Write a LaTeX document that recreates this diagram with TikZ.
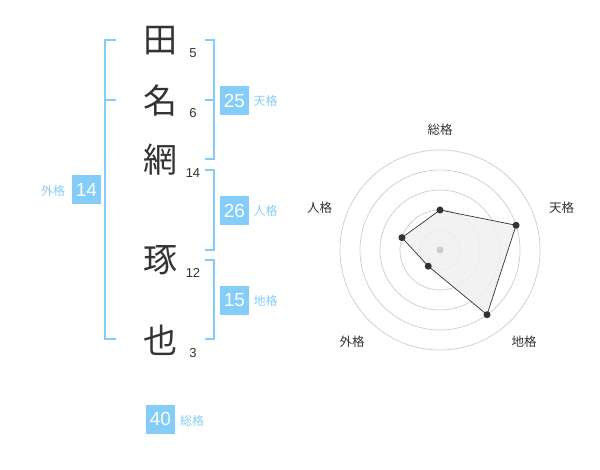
\documentclass[tikz,border=0pt]{standalone}
\usepackage{fontspec}
\setmainfont{Liberation Sans}
\newfontfamily\jpfont{Noto Sans CJK JP}
\definecolor{kakublue}{HTML}{85CDF9}
\definecolor{inkgray}{HTML}{333333}
\definecolor{ringgray}{HTML}{CCCCCC}
\definecolor{areagray}{HTML}{F0F0F0}

\begin{document}
\begin{tikzpicture}[x=1pt, y=-1pt,
    kanji node/.style={inner sep=0pt, text=inkgray, font=\jpfont\fontsize{34}{34}\selectfont},
    stroke node/.style={inner sep=0pt, text=inkgray, font=\fontsize{13}{13}\selectfont},
    box node/.style={fill=kakublue, text=white, minimum size=29pt, inner sep=0pt, font=\fontsize{19}{19}\selectfont},
    kaku node/.style={inner sep=0pt, text=kakublue, font=\jpfont\fontsize{12}{12}\selectfont},
    axis node/.style={inner sep=0pt, text=inkgray, font=\jpfont\fontsize{12.5}{12.5}\selectfont},
    dot node/.style={circle, fill=inkgray, inner sep=0pt, minimum size=7pt},
    bracket/.style={draw=kakublue, line width=1.6pt}]

  \useasboundingbox (0,0) rectangle (600,470);

  % name characters and stroke counts
  \node[kanji node] (1) at (160,41) {田};
  \node[kanji node] (2) at (160,101) {名};
  \node[kanji node] (3) at (160,160) {網};
  \node[kanji node] (4) at (160,260) {琢};
  \node[kanji node] (5) at (160,340) {也};

  \node[stroke node] (s1) at (193,53) {5};
  \node[stroke node] (s2) at (193,113) {6};
  \node[stroke node] (s3) at (193,173) {14};
  \node[stroke node] (s4) at (193,273) {12};
  \node[stroke node] (s5) at (193,353) {3};

  % brackets
  \draw[bracket] (116,40) -- (105,40) -- (105,339) -- (116,339);
  \draw[bracket] (105,100) -- (116,100);
  \draw[bracket] (205,40) -- (214,40) -- (214,159) -- (205,159);
  \draw[bracket] (205,100) -- (214,100);
  \draw[bracket] (205,170) -- (214,170) -- (214,250) -- (205,250);
  \draw[bracket] (205,260) -- (214,260) -- (214,339) -- (205,339);

  % values
  \node[box node] (ten) at (234.5,100.5) {25};
  \node[kaku node] (tenl) at (265.5,101) {天格};
  \node[box node] (jin) at (234.5,210.5) {26};
  \node[kaku node] (jinl) at (265.5,211) {人格};
  \node[box node] (chi) at (234.5,300.5) {15};
  \node[kaku node] (chil) at (265.5,301) {地格};
  \node[box node] (gai) at (86.5,190) {14};
  \node[kaku node] (gail) at (53,191) {外格};
  \node[box node] (sou) at (160.5,419) {40};
  \node[kaku node] (soul) at (192,421) {総格};

  % radar chart
  \node[axis node] (a1) at (440,130) {総格};
  \node[axis node] (a2) at (561.5,208) {天格};
  \node[axis node] (a3) at (524,342) {地格};
  \node[axis node] (a4) at (352,342) {外格};
  \node[axis node] (a5) at (319.5,208) {人格};

  \begin{scope}[shift={(440,250)}]
    \foreach \r in {20,40,60,80,100}
      \draw[ringgray, line width=0.7pt] (0,0) circle[radius=\r];

    \coordinate (p1) at (90:-40);
    \coordinate (p2) at (-18:80);
    \coordinate (p3) at (54:80);
    \coordinate (p4) at (126:20);
    \coordinate (p5) at (198:40);

    \fill[areagray, opacity=0.85] (p1) -- (p2) -- (p3) -- (p4) -- (p5) -- cycle;
    \draw[inkgray, line width=0.7pt] (p1) -- (p2) -- (p3) -- (p4) -- (p5) -- cycle;
    \fill[ringgray] (0,0) circle[radius=3.5];

    \foreach \p in {p1,p2,p3,p4,p5}
      \node[dot node] at (\p) {};
  \end{scope}

\end{tikzpicture}
\end{document}
